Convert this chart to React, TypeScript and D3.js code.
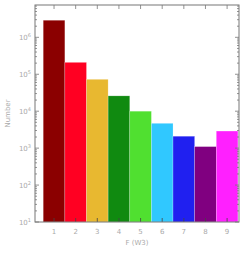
import React, { useEffect, useRef } from "react";
import * as d3 from "d3";

const categories = [1, 2, 3, 4, 5, 6, 7, 8, 9];
const counts = [2.9e6, 2.1e5, 7.3e4, 2.6e4, 1.0e4, 4.7e3, 2.1e3, 1.1e3, 2.9e3];
const colors = ["#8b0000", "#ff0022", "#e8b830", "#108a10", "#50e030", "#30c8ff", "#2020f0", "#800080", "#ff20ff"];
const yTicks = [1e1, 1e2, 1e3, 1e4, 1e5, 1e6];
const yExponents = ["1", "2", "3", "4", "5", "6"];

const App = () => {
  const ref = useRef<SVGSVGElement>(null);

  useEffect(() => {
    const margin = { top: 5, right: 10, bottom: 31, left: 35 },
      width = 249 - margin.left - margin.right,
      height = 253 - margin.top - margin.bottom;

    const root = d3.select(ref.current);
    root.selectAll("*").remove();
    const svg = root.append("g").attr("transform", `translate(${margin.left},${margin.top})`);

    const x = d3.scaleLinear().domain([0.12, 9.55]).range([0, width]);
    const y = d3.scaleLog().domain([10, 7.5e6]).range([height, 0]);

    const unit = x(2) - x(1);

    // bars
    svg
      .selectAll(".bar")
      .data(categories)
      .enter()
      .append("rect")
      .attr("x", (d) => x(d - 0.5))
      .attr("y", (d, i) => y(counts[i]))
      .attr("width", unit)
      .attr("height", (d, i) => height - y(counts[i]))
      .attr("fill", (d, i) => colors[i])
      .attr("stroke", "rgba(255,255,255,0.35)")
      .attr("stroke-width", 0.6);

    const axisColor = "#777";

    // minor + major y ticks on both sides
    const minor: number[] = [];
    for (let e = 1; e <= 6; e++) for (let m = 2; m <= 9; m++) {
      const v = m * Math.pow(10, e);
      if (v < 7.5e6) minor.push(v);
    }
    const tickG = svg.append("g").attr("stroke", axisColor).attr("stroke-width", 0.8);
    minor.forEach((v) => {
      tickG.append("line").attr("x1", 0).attr("x2", 2).attr("y1", y(v)).attr("y2", y(v));
      tickG.append("line").attr("x1", width).attr("x2", width - 2).attr("y1", y(v)).attr("y2", y(v));
    });
    yTicks.forEach((v) => {
      tickG.append("line").attr("x1", 0).attr("x2", 4).attr("y1", y(v)).attr("y2", y(v));
      tickG.append("line").attr("x1", width).attr("x2", width - 4).attr("y1", y(v)).attr("y2", y(v));
    });
    categories.forEach((c) => {
      tickG.append("line").attr("x1", x(c)).attr("x2", x(c)).attr("y1", height).attr("y2", height - 4).attr("stroke", "#444");
      tickG.append("line").attr("x1", x(c)).attr("x2", x(c)).attr("y1", 0).attr("y2", 4);
    });

    // frame
    svg
      .append("rect")
      .attr("width", width)
      .attr("height", height)
      .attr("fill", "none")
      .attr("stroke", axisColor)
      .attr("stroke-width", 1);

    const textColor = "#aaa";

    // y tick labels
    yTicks.forEach((v, i) => {
      const t = svg
        .append("text")
        .attr("x", -4)
        .attr("y", y(v) + 2.5)
        .attr("text-anchor", "end")
        .attr("fill", textColor)
        .style("font-family", "DejaVu Sans, sans-serif")
        .style("font-size", "7px");
      t.append("tspan").text("10");
      t.append("tspan").attr("dy", -3).style("font-size", "5px").text(yExponents[i]);
    });

    // x tick labels
    svg
      .selectAll(".xlab")
      .data(categories)
      .enter()
      .append("text")
      .attr("x", (d) => x(d))
      .attr("y", height + 12)
      .attr("text-anchor", "middle")
      .attr("fill", textColor)
      .style("font-family", "DejaVu Sans, sans-serif")
      .style("font-size", "7px")
      .text((d) => d);

    // axis labels
    svg
      .append("text")
      .attr("x", width / 2)
      .attr("y", height + 23)
      .attr("text-anchor", "middle")
      .attr("fill", textColor)
      .style("font-family", "DejaVu Sans, sans-serif")
      .style("font-size", "7px")
      .text("F (W3)");

    svg
      .append("text")
      .attr("transform", "rotate(-90)")
      .attr("x", -height / 2)
      .attr("y", -25)
      .attr("text-anchor", "middle")
      .attr("fill", textColor)
      .style("font-family", "DejaVu Sans, sans-serif")
      .style("font-size", "7px")
      .text("Number");
  }, []);

  return <svg ref={ref} width={249} height={253} style={{ position: "absolute", left: 0, top: 0, background: "#fff" }} />;
};

export default App;
